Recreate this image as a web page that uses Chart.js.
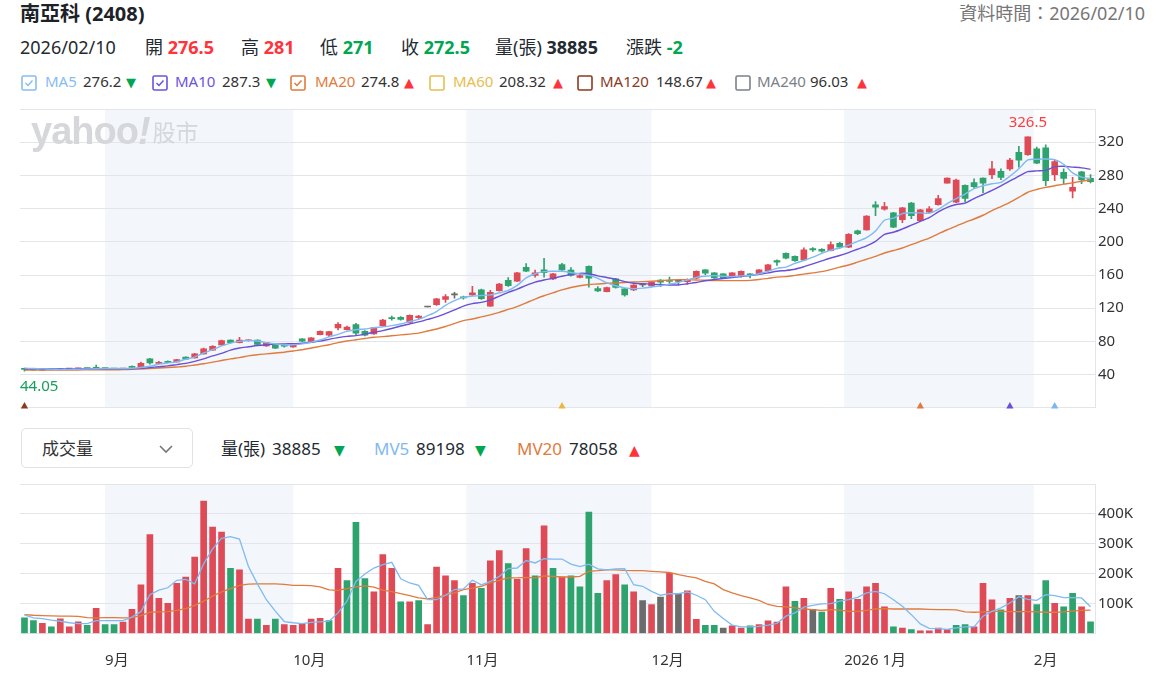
<!DOCTYPE html>
<html><head><meta charset="utf-8">
<script src="https://cdn.jsdelivr.net/npm/chart.js@4.4.1/dist/chart.umd.min.js"></script>
<style>
body{margin:0;width:1157px;height:683px;background:#fff;font-family:"Noto Sans","Noto Sans CJK TC",sans-serif;position:relative;overflow:hidden;color:#232a31}
.a{position:absolute;white-space:nowrap;line-height:1}
.r2{font-size:18px;top:38px}
.lg{font-size:15px;top:74px}
.vh{font-size:17px;top:440px}
.up{color:#ff333a}.dn{color:#00a650}
.arr{font-family:"DejaVu Sans";font-size:12px}
#pc{position:absolute;left:0;top:102px}
#vc{position:absolute;left:0;top:476px}
#wm{position:absolute;left:31px;top:110px;color:#d6d7da;z-index:5;pointer-events:none;white-space:nowrap}
</style></head><body>
<div class="a" style="left:20px;top:4px;font-size:20px;font-weight:700;color:#1d2228">南亞科 (2408)</div>
<div class="a" style="right:12px;top:4px;font-size:18px;color:#767676">資料時間：2026/02/10</div>

<div class="a r2" style="left:20px">2026/02/10</div>
<div class="a r2" style="left:145px">開 <b class="up">276.5</b></div>
<div class="a r2" style="left:241px">高 <b class="up">281</b></div>
<div class="a r2" style="left:320px">低 <b class="dn">271</b></div>
<div class="a r2" style="left:401px">收 <b class="dn">272.5</b></div>
<div class="a r2" style="left:495px">量(張) <b>38885</b></div>
<div class="a r2" style="left:626px">漲跌 <b class="dn">-2</b></div>

<div id="legend"></div>

<div class="a" style="left:21px;top:428px;width:170px;height:38px;border:1.5px solid #dfe2e6;border-radius:5px"></div>
<div class="a vh" style="left:42px;top:440px;color:#333">成交量</div>
<svg class="a" style="left:158px;top:443px" width="16" height="12"><polyline points="2,3 8,9 14,3" fill="none" stroke="#777" stroke-width="1.6"/></svg>
<div class="a vh" style="left:221px">量(張)</div>
<div class="a vh" style="left:272px">38885</div>
<div class="a vh arr dn" style="left:334px;top:443px;font-size:14px">▼</div>
<div class="a vh" style="left:374px;color:#82b9ef">MV5</div>
<div class="a vh" style="left:416px">89198</div>
<div class="a vh arr dn" style="left:475px;top:443px;font-size:14px">▼</div>
<div class="a vh" style="left:517px;color:#e07b3d">MV20</div>
<div class="a vh" style="left:569px">78058</div>
<div class="a vh arr up" style="left:629px;top:443px;font-size:14px">▲</div>

<div id="wm"><span style="font-family:'Liberation Sans';font-weight:700;font-size:38px;letter-spacing:-1px">yahoo<i>!</i></span><span style="font-family:'Noto Sans CJK TC';font-size:23px;margin-left:3px;position:relative;top:-3px">股市</span></div>

<canvas id="pc" width="1157" height="310"></canvas>
<canvas id="vc" width="1157" height="207"></canvas>

<script>
// ---- categories (trading days) ----
const aug = [19,20,21,22,25,26,27,28,29];
const sep = [1,2,3,4,5,8,9,10,11,12,15,16,17,18,19,22,23,24,25,26,30];
const oct = [1,2,3,7,8,9,13,14,15,16,17,20,21,22,23,27,28,29,30,31];
const nov = [3,4,5,6,7,10,11,12,13,14,17,18,19,20,21,24,25,26,27,28];
const dec = [1,2,3,4,5,8,9,10,11,12,15,16,17,18,19,22,23,24,26,29,30,31];
const jan = [2,5,6,7,8,9,12,13,14,15,16,19,20,21,22,23,26,27,28,29,30];
const feb = [2,3,4,5,6,9,10];
const categories = [].concat(
  aug.map(d=>'2025/08/'+d), sep.map(d=>'2025/09/'+d), oct.map(d=>'2025/10/'+d),
  nov.map(d=>'2025/11/'+d), dec.map(d=>'2025/12/'+d), jan.map(d=>'2026/01/'+d), feb.map(d=>'2026/02/'+d));

// month boundary positions (in trading-day index units) and labels
const monthTickPos = [9, 30, 49.33, 70, 91.5, 112.67];
const monthTickLabels = ['9月','10月','11月','12月','2026 1月','2月'];

// ---- OHLC ----
const open = [
47.5,46.5,45.3,46.3,45.9,46.8,47.1,47.6,48.2,47.5,
47.3,46.8,50.1,48.5,59,53.5,56.1,55.2,61,60.1,
65,69.5,75.8,81.5,78.6,80.8,81.5,74.6,75.4,75.2,
73.2,83,80,88.2,87.4,96.2,94,100.3,92.2,89,
98.6,108.5,109,103,108.5,121.5,124.4,130.5,136,133.6,
136,142,122.3,141.2,153.5,152.6,169.3,159.5,166.1,155.2,
172.5,166,157,170.5,143.6,140,155.3,143.2,142,148,
146.8,154,153.3,152.3,152,156.1,166.1,162.5,161.3,158.5,
158.1,161.3,161.3,165.3,177.4,186.2,182.5,178.1,191.8,191,
189.4,198.2,193.4,213.1,214.3,244.4,239.2,234.8,226.7,246.8,
225.5,235.6,244.8,270.5,247.6,268.1,271.3,276.9,280.9,285,
287.8,307.9,305,311.9,313.1,280.9,283.8,260.9,284.2,276.5];
const high = [
48,47,46.5,46.6,47.2,47.5,47.8,47.9,51.5,47.8,
47.5,47.6,50.5,55,59.5,56,56.5,58.5,61.5,65.5,
72,75,81.5,82,85,82.3,82,79,76,75.8,
76.5,83.5,84.5,92.8,92.2,102.6,98.5,101.8,93,97,
106.5,110.5,110,112,111.5,121.5,132,136.5,139,134.5,
146.2,143,141.5,150,157,163.2,173.8,166,180,162,
174.1,169,161.5,171,146,145.5,156,143.8,148.5,150,
152,154.5,157.5,154,155.5,165,166.5,163,161.8,163,
165,161.8,166.5,172.8,178.3,186.8,183,192.6,193,191.8,
200,199.5,209.8,214,231.5,248.4,247.5,235.5,241.5,247.5,
239,242.5,256,277.2,275.5,268.5,276,277,297,287.8,
300.5,315,326.5,314,316.7,298.5,288,277.7,285,281];
const low = [
44.05,45.2,45,45.5,45.7,46.4,46.8,46.9,47,46.9,
46.5,46.5,48,48.3,52.5,52.8,54.3,54.9,58,59.8,
64.5,69,75.5,78,78.2,80.3,76,74,71.3,73,
72.8,79.8,79.5,87.8,85.8,93.8,93.5,88.2,86.5,88.5,
98,105.5,105.5,102.5,107.5,121.5,123.5,127,132,131,
135.5,130.5,122,140.5,146.3,152,164,157.5,157.3,154.5,
165.5,158.5,156.5,145.2,140,139.5,144,134.5,141,146,
146,146,150,148.5,149,155.5,160.5,156,156,158,
157.5,156.5,160.5,164.8,171.5,179.5,176.5,177.5,188.5,187.5,
189,192,193,208.5,214,231.5,238,217,223,228,
225,235,244,270.5,247,248,264,259.3,276,275,
286,289.8,304,294,267.7,273.7,269.7,252.8,270,271];
const close = [
46.2,45.6,46.2,45.8,46.9,47.2,47.6,47.2,47.6,47.2,
46.8,47.3,48.6,53.5,54,54.5,54.8,58,58.6,65,
71,74,81,78.6,81.5,81.8,76.5,78.6,71.8,74.2,
76,80.3,84.2,92.2,91.8,100.6,97.4,89.8,87.4,96.6,
105.8,107.5,106.5,111.5,110.5,121.5,131.2,134,136,132.4,
138.5,131.5,139.2,149.2,147,162.7,164.5,162.5,162.9,161.3,
166.1,159.5,159.2,156.1,140.8,144.8,145,136,148,148,
151.3,151.3,152.3,152.3,154,164.5,162.1,156.5,156.5,162.5,
164.5,159.3,166.1,172.3,175.4,180.2,177.3,190.2,190.2,188.6,
196.6,193.4,209,209.8,231.1,241.6,242.4,217.5,240.8,231.5,
238.4,239.6,252,276.9,274.5,252.4,266.5,270.5,287.8,277.7,
298.5,298.5,326.5,294.6,273.7,296.6,276.5,265.7,274.5,272.5];

// ---- price moving averages ----
const ma5 = [
47.8,47.3,46.9,46.5,46.2,46.3,46.5,46.8,47.1,47.4,
47.4,47.3,47.6,48.5,50,52.5,54,55.5,58.5,61,
66,70,74.5,78,80,81,80.5,78.5,77,75.7,
76,77,79,81.7,85.5,88.5,92,94,95,96.5,
97.5,99,101,104,106.5,111,116,123.5,129,133,
134.5,135.3,136,138.5,141.5,147.5,156.5,161.5,164,164.5,
164.5,163,161.3,159.5,156,150.5,147,144.5,143.5,144.2,
145.5,147,149,151,154,157.2,158.5,159.2,158.5,158,
159,159.5,161.5,164.5,168,169.5,174,177.5,181.5,186,
190,192.5,196,200.5,205,213,226,228.5,234,235,
234.8,234.4,239,246,252,257.5,264,267.5,270,271.5,
279,288,298.6,299.5,299.8,299,293.5,283,278,276.2];
const ma10 = [
46.9,46.9,46.8,46.8,46.7,46.7,46.7,46.8,46.9,47,
47,47,47.1,47.5,48.5,49.5,50.5,52,53.5,56,
59,62.5,65.5,69.5,72,73.5,75,76,76.7,77,
77.3,77.7,79,80.3,82.5,84.5,86,87,88.8,91,
93,95.5,98.5,101,103.5,106.5,109.5,113.5,118,122.5,
125.5,127,130,134.5,139,143,147.5,151.5,154,156,
158.5,160.5,162,161.5,159,157,155,152,150,149.5,
149,148.4,148,148,149.5,151,153,154.5,155.8,157,
158.2,159.3,160.8,162.5,164.5,165.5,167,170,173.5,177,
180.5,183.5,187,191,195,200.5,209,211.5,215.5,220,
224.5,229,236,241.5,245,246.5,252,257,262,267.5,
273.5,279,284.5,285.5,286,290.5,291,290,289,287.3];
const ma20 = [
45.5,45.5,45.5,45.5,45.5,45.6,45.6,45.7,45.7,45.8,
45.8,46,46.3,46.8,47.3,47.9,48.5,49.2,50,51.5,
53,55,57,59,60.5,62.5,64,65,66,67,
68.5,70,72,74,76,78.5,80.5,82,83.5,85,
85.8,86.8,87.8,88.8,90,92.5,95,98,101.5,105,
107,109.5,112,115,118.5,122,126.5,131,135,138.5,
142,145,147,148.5,149.2,150,150.5,151,151.5,152,
152.5,153.2,154,154.4,154.2,154,153.6,153.3,153.2,153.2,
153.2,153.5,154.5,156,157.5,158,159.5,161,162.5,164,
166.5,169.5,172,175.5,179,182.5,186.5,189.5,192.5,196.5,
200.5,204.5,209.5,214.5,219,223.5,227.5,232,237.5,242.5,
247.5,253.5,259.7,263,265.5,267.5,269.5,271,273,274.8];

// ---- volume (K 張), direction vs previous close: 1 up, -1 down, 0 flat ----
const volume = [
52,43,34,22,49,22,39,27,84,30,
30,38,81,163,331,118,101,168,189,256,
443,356,339,218,213,48,48,27,48,30,
27,33,48,51,43,218,177,372,184,139,
264,218,106,106,110,30,222,193,177,127,
168,151,243,277,234,181,284,193,360,218,
189,193,156,406,134,177,197,163,139,110,
97,122,201,134,143,47,27,27,18,26,
18,26,30,42,38,156,108,118,81,72,
151,114,139,114,156,168,89,22,18,13,
9,9,18,13,27,30,22,168,113,79,
118,127,127,97,177,101,89,134,89,38.885];
const volDir = [
-1,-1,1,-1,1,1,1,-1,1,-1,
-1,1,1,1,1,1,1,1,1,1,
1,1,1,-1,1,1,-1,1,-1,1,
1,1,1,1,-1,1,-1,-1,-1,1,
1,1,-1,1,-1,1,1,1,1,-1,
1,-1,1,1,-1,1,1,-1,1,-1,
1,-1,-1,-1,-1,1,1,-1,1,0,
1,0,1,0,1,1,-1,-1,0,1,
1,-1,1,1,1,1,-1,1,0,-1,
1,-1,1,1,1,1,1,-1,1,-1,
1,1,1,1,-1,-1,1,1,1,-1,
1,0,1,-1,-1,1,-1,-1,1,-1];
const mv5 = [
62,52,50,45,41,36,33,33,43,43,
43,43,55,73,130,145,153,178,181,166,
233,283,318,324,316,224,166,113,75,40,
36,33,37,39,41,69,108,174,199,219,
230,238,183,169,161,113,113,128,147,149,
178,163,174,191,217,219,244,236,250,249,
249,232,224,232,216,213,216,217,163,158,
141,128,133,133,139,128,113,74,50,28,
22,22,24,28,34,58,69,88,94,99,
100,108,113,121,136,141,133,113,91,63,
32,17,16,14,19,22,22,58,74,86,
102,123,114,111,130,127,120,120,119,89.198];
const mv20 = [
63,61,60,59,58,58,57,53,52,53,
53,52,53,60,71,72,73,77,83,94,
108,125,139,150,161,165,166,166,166,164,
161,161,160,156,146,144,150,156,159,155,
145,140,133,127,119,116,121,128,136,147,
152,158,169,178,186,186,188,186,193,191,
189,189,191,208,210,213,213,211,210,210,
208,206,204,197,191,186,174,166,147,136,
127,119,111,97,91,89,86,82,80,77,
80,78,74,74,77,82,83,82,82,82,
82,81,80,80,79,72,71,72,74,74,
73,73,73,72,71,71,72,75,77.5,78.058];

// bottom signal markers
const markerIdx = [0, 60, 100, 110, 115];
const markerColors = ['#8b3a1e','#e8b93a','#e07b3d','#6a4fd8','#7ab8f0'];

// price axis / volume axis ticks
const priceTicks = {min:0, max:360, step:40};
const volTicks = {min:0, max:500, step:100};

// ---- legend (header) ----
const legendItems = [
  {name:'MA5',  val:'276.2', dir:-1, col:'#86bdf2', checked:true,  pos:[21,45,83,126]},
  {name:'MA10', val:'287.3', dir:-1, col:'#6e53dd', checked:true,  pos:[152,175,222,266]},
  {name:'MA20', val:'274.8', dir:1,  col:'#e07b3d', checked:true,  pos:[290,315,361,404]},
  {name:'MA60', val:'208.32',dir:1,  col:'#e8bd4f', checked:false, pos:[429,453,499,553]},
  {name:'MA120',val:'148.67',dir:1,  col:'#8b3a1e', checked:false, pos:[577,600,656,706]},
  {name:'MA240',val:'96.03', dir:1,  col:'#7b818b', checked:false, pos:[735,757,810,857]}
];
(function(){
  let h='';
  legendItems.forEach(it=>{
    h+=`<svg class="a" style="left:${it.pos[0]}px;top:75px" width="16" height="16"><rect x="1" y="1" width="14" height="14" rx="1.5" fill="#fff" stroke="${it.col}" stroke-width="1.6"/>`+
       (it.checked?`<polyline points="4.5,8 7,10.5 11.5,5.5" fill="none" stroke="${it.col}" stroke-width="1.5"/>`:'')+`</svg>`;
    h+=`<div class="a lg" style="left:${it.pos[1]}px;color:${it.col}">${it.name}</div>`;
    h+=`<div class="a lg" style="left:${it.pos[2]}px;color:#333">${it.val}</div>`;
    h+=`<div class="a lg arr ${it.dir>0?'up':'dn'}" style="left:${it.pos[3]}px;top:76px;font-size:13px">${it.dir>0?'▲':'▼'}</div>`;
  });
  document.getElementById('legend').innerHTML=h;
})();

// ---- chart helpers ----
const FONT = '"Noto Sans","Noto Sans CJK TC",sans-serif';
const RED='#de4b56', GREEN='#2fa36e', GRAY='#6b6b6b';
const GRID='#e2e5e9';
const idx = categories.map((_,i)=>i);
const pts = arr => arr.map((v,i)=>({x:i,y:v}));
const candleCol = idx.map(i=> close[i]>open[i]?RED:(close[i]<open[i]?GREEN:GRAY));
const volCol = volDir.map(d=> d>0?RED:(d<0?GREEN:GRAY));

const bandPlugin = {id:'bands', beforeDraw(chart){
  const {ctx, chartArea:a, scales:{x}} = chart;
  ctx.save(); ctx.fillStyle='#f3f6fa';
  for(let k=0;k<monthTickPos.length;k+=2){
    const x0=x.getPixelForValue(monthTickPos[k]);
    const x1=k+1<monthTickPos.length?x.getPixelForValue(monthTickPos[k+1]):a.right;
    ctx.fillRect(x0,a.top,x1-x0,a.bottom-a.top);
  }
  ctx.restore();
}};

const hiIdx = high.indexOf(Math.max(...high));
const loIdx = low.indexOf(Math.min(...low));
const hlPlugin = {id:'hl', afterDatasetsDraw(chart){
  const {ctx, chartArea:a, scales:{x,y}} = chart;
  ctx.save(); ctx.font='15px '+FONT; ctx.textBaseline='middle'; ctx.textAlign='center';
  const ht=String(high[hiIdx]); const hw=ctx.measureText(ht).width;
  let hx=Math.min(x.getPixelForValue(hiIdx), a.right-hw/2);
  ctx.fillStyle='#ff3b3b'; ctx.fillText(ht, hx, y.getPixelForValue(high[hiIdx])-14);
  const lt=String(low[loIdx]); const lw=ctx.measureText(lt).width;
  let lx=Math.max(x.getPixelForValue(loIdx), a.left+lw/2);
  ctx.fillStyle='#14a05a'; ctx.fillText(lt, lx, y.getPixelForValue(low[loIdx])+15);
  ctx.restore();
}};

const xLinear = {type:'linear', min:-0.5, max:idx.length-0.5, offset:false};
function fitRight(s){ s.width=62; s.paddingTop=0; s.paddingBottom=0; }

// ---- price chart ----
new Chart(document.getElementById('pc'), {
  type:'bar',
  data:{datasets:[
    {type:'line', data:pts(ma5), borderColor:'#7fbaf2', borderWidth:1.4, pointRadius:0, tension:0.25, order:0},
    {type:'line', data:pts(ma10), borderColor:'#6a4fd8', borderWidth:1.4, pointRadius:0, tension:0.25, order:0},
    {type:'line', data:pts(ma20), borderColor:'#e07b3d', borderWidth:1.4, pointRadius:0, tension:0.25, order:0},
    {type:'line', data:markerIdx.map(i=>({x:i,y:1.8})), showLine:false, pointStyle:'triangle', pointRadius:4.2,
      pointBackgroundColor:markerColors, pointBorderWidth:0, clip:false, order:0},
    {data:idx.map(i=>({x:i,y:[open[i],close[i]]})), backgroundColor:candleCol, barThickness:6, minBarLength:1, grouped:false, order:1},
    {data:idx.map(i=>({x:i,y:[low[i],high[i]]})), backgroundColor:candleCol, barThickness:1, grouped:false, order:2}
  ]},
  options:{
    responsive:false, animation:false,
    layout:{padding:{left:20,top:7,right:0,bottom:3}},
    plugins:{legend:{display:false}, tooltip:{enabled:false}},
    scales:{
      x:Object.assign({display:false}, xLinear),
      y:{position:'right', min:priceTicks.min, max:priceTicks.max,
         ticks:{stepSize:priceTicks.step, padding:3, color:'#333', font:{size:15,family:FONT},
                callback:v=>(v===priceTicks.min||v===priceTicks.max)?'':v},
         grid:{color:GRID, drawTicks:false}, border:{display:true,color:GRID},
         afterFit:fitRight}
    }
  },
  plugins:[bandPlugin, hlPlugin]
});

// ---- volume chart ----
new Chart(document.getElementById('vc'), {
  type:'bar',
  data:{datasets:[
    {type:'line', data:pts(mv5), borderColor:'#7fbaf2', borderWidth:1.3, pointRadius:0, tension:0, order:0},
    {type:'line', data:pts(mv20), borderColor:'#e07b3d', borderWidth:1.3, pointRadius:0, tension:0, order:0},
    {data:pts(volume), backgroundColor:volCol, barThickness:6, grouped:false, order:1}
  ]},
  options:{
    responsive:false, animation:false,
    layout:{padding:{left:20,top:8,right:0,bottom:0}},
    plugins:{legend:{display:false}, tooltip:{enabled:false}},
    scales:{
      x:Object.assign({
        grid:{display:false, drawTicks:false}, border:{display:false},
        ticks:{autoSkip:false, maxRotation:0, align:'start', padding:18, color:'#333', font:{size:15,family:FONT},
               callback:(v,i)=>monthTickLabels[i]},
        afterBuildTicks(s){ s.ticks = monthTickPos.map(v=>({value:v})); },
        afterFit(s){ s.height=49.5; s.paddingLeft=0; s.paddingRight=0; }
      }, xLinear),
      y:{position:'right', min:volTicks.min, max:volTicks.max,
         ticks:{stepSize:volTicks.step, padding:3, color:'#333', font:{size:15,family:FONT},
                callback:v=>(v===volTicks.min||v===volTicks.max)?'':v+'K'},
         grid:{color:GRID, drawTicks:false}, border:{display:true,color:GRID},
         afterFit:fitRight}
    }
  },
  plugins:[bandPlugin]
});
</script>
</body></html>
